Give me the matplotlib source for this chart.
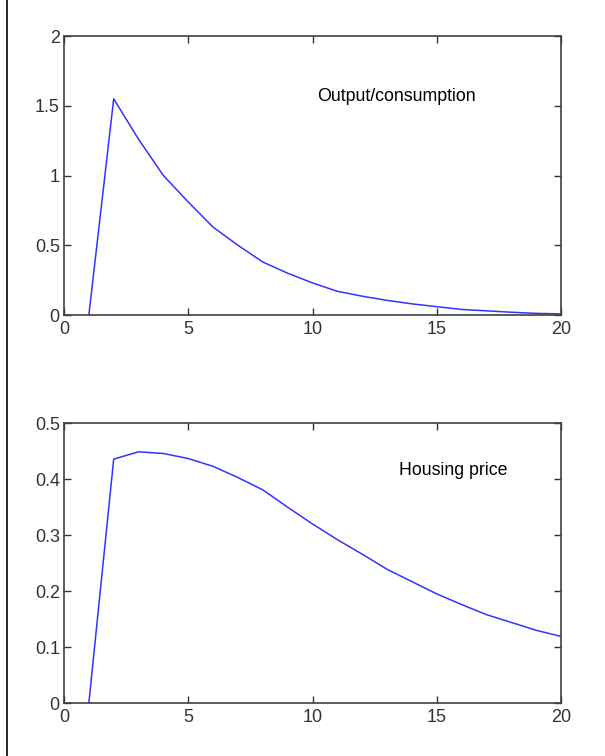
import numpy as np
import matplotlib.pyplot as plt
from matplotlib.lines import Line2D

plt.rcParams['font.family'] = ['Liberation Sans', 'DejaVu Sans']

# impulse responses, periods 1..20
periods = list(range(1, 21))
output_cons = [0, 1.55, 1.26, 1.00, 0.81, 0.63, 0.50, 0.38, 0.30, 0.23,
               0.17, 0.135, 0.105, 0.08, 0.06, 0.04, 0.03, 0.02, 0.012, 0.008]
house_price = [0, 0.436, 0.449, 0.446, 0.437, 0.423, 0.403, 0.381, 0.35, 0.32,
               0.292, 0.266, 0.239, 0.217, 0.195, 0.176, 0.158, 0.144, 0.13, 0.119]

fig = plt.figure(figsize=(6.05, 7.56), dpi=100)
ax1 = fig.add_axes([0.1058, 0.5833, 0.8215, 0.369])
ax2 = fig.add_axes([0.1058, 0.0701, 0.8215, 0.370])

def style(ax):
    ax.set_xlim(0, 20)
    ax.set_xticks([0, 5, 10, 15, 20])
    ax.tick_params(direction='in', length=5, width=1, labelsize=13,
                   top=True, right=True, colors='#333333')
    ax.tick_params(axis='x', pad=4.5)
    ax.tick_params(axis='y', pad=3)
    for s in ax.spines.values():
        s.set_color('#404040')
        s.set_linewidth(1.2)

ax1.plot(periods, output_cons, color='#3333ff', lw=1.1)
ax1.set_ylim(0, 2)
ax1.set_yticks([0, 0.5, 1, 1.5, 2])
ax1.set_yticklabels(['0', '0.5', '1', '1.5', '2'])
style(ax1)
ax1.text(10.2, 1.57, 'Output/consumption', fontsize=12.8, va='center', ha='left')

ax2.plot(periods, house_price, color='#3333ff', lw=1.1)
ax2.set_ylim(0, 0.5)
ax2.set_yticks([0, 0.1, 0.2, 0.3, 0.4, 0.5])
ax2.set_yticklabels(['0', '0.1', '0.2', '0.3', '0.4', '0.5'])
style(ax2)
ax2.text(13.5, 0.416, 'Housing price', fontsize=12.8, va='center', ha='left')

# page margin rule on the left
fig.add_artist(Line2D([0.012, 0.012], [0, 1], color='black', lw=1.2,
                      transform=fig.transFigure))

fig.savefig('out.png', dpi=100)
